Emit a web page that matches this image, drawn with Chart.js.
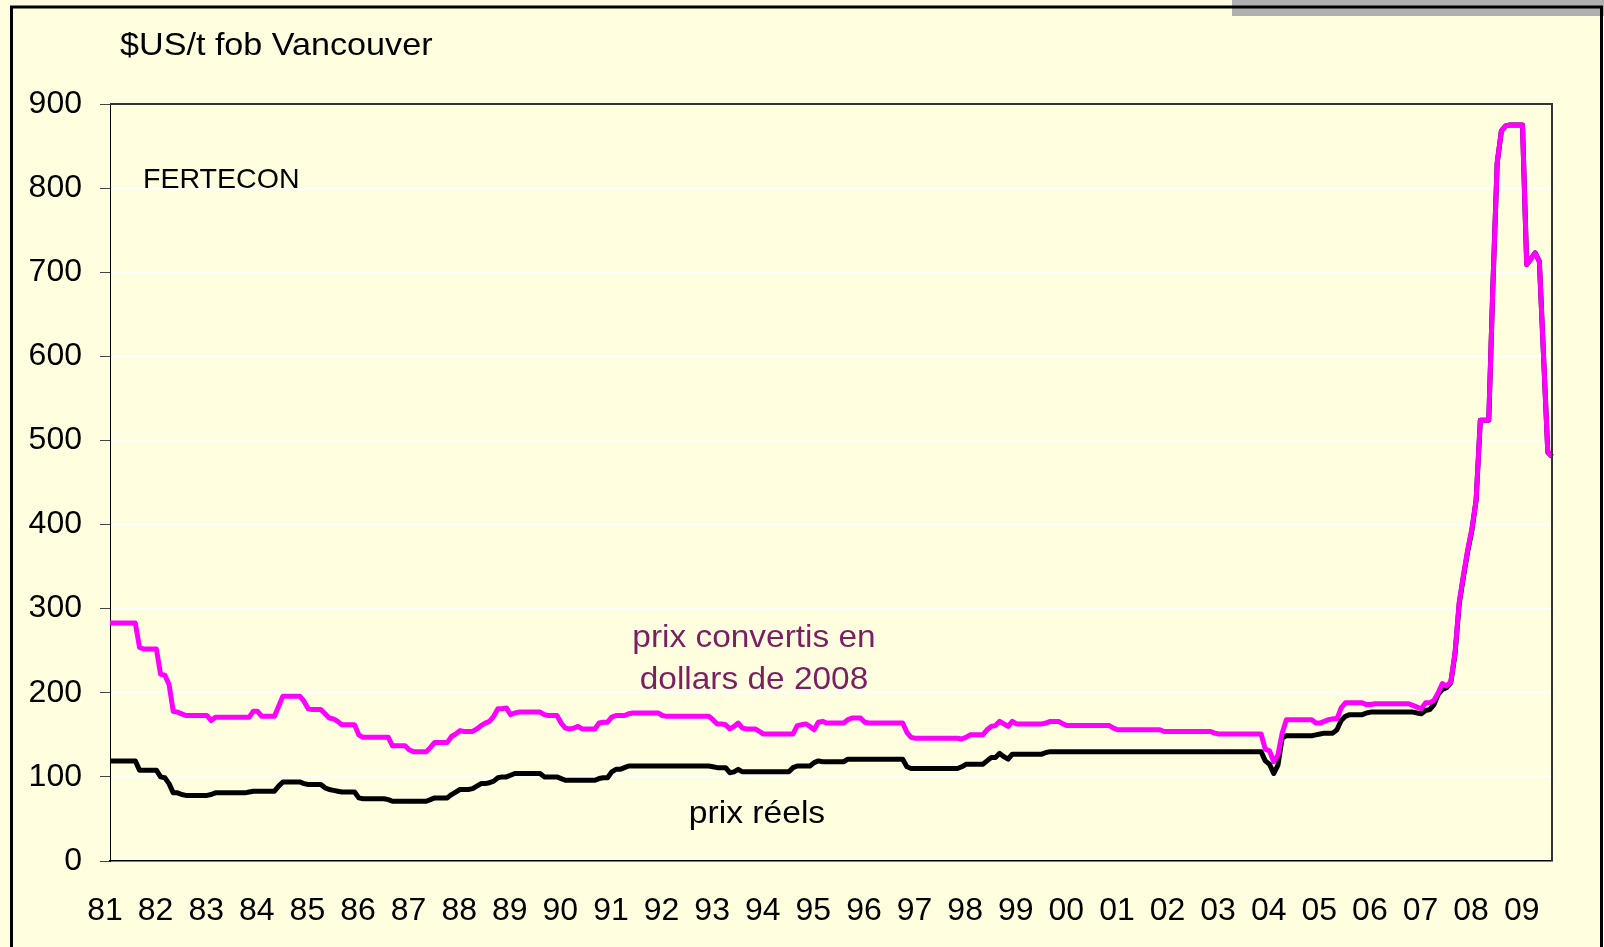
<!DOCTYPE html>
<html><head><meta charset="utf-8">
<script src="https://cdn.jsdelivr.net/npm/chart.js@4.4.1/dist/chart.umd.min.js"></script>
<style>
html,body{margin:0;padding:0;background:#ffffe0;}
#wrap{position:relative;width:1604px;height:947px;overflow:hidden;background:#ffffe0;}
canvas{position:absolute;left:0;top:0;}
.t{position:absolute;font-family:"Liberation Sans",Arial,sans-serif;white-space:nowrap;}
</style></head><body>
<div id="wrap">
<canvas id="c" width="1604" height="947"></canvas>
<div class="t" style="left:120px;top:28px;font-size:32px;line-height:32px;color:#000;transform:scaleX(1.067);transform-origin:0 0">$US/t fob Vancouver</div>
<div class="t" style="left:143px;top:165px;font-size:28px;line-height:28px;color:#000;transform:scaleX(1.02);transform-origin:0 0">FERTECON</div>
<div class="t" style="left:554px;top:615px;width:400px;text-align:center;font-size:32px;line-height:42px;color:#7b1f62;transform:scaleX(1.044);transform-origin:50% 0">prix convertis en<br>dollars de 2008</div>
<div class="t" style="left:557px;top:796px;width:400px;text-align:center;font-size:32px;line-height:32px;color:#000;transform:scaleX(1.05);transform-origin:50% 0">prix réels</div>
</div>
<script>
// Tick labels (one per January)
const yearLabels = ['81','82','83','84','85','86','87','88','89','90','91','92','93','94','95','96','97','98','99','00','01','02','03','04','05','06','07','08','09'];
const startYear = 1981;

// Monthly prices converted to 2008 dollars (Jan 1981 - Jul 2009)
const price2008 = [
 283,283,283,283,283,283,283,254,252,252,252,252,
 222,221,210,178,177,175,173,173,173,173,173,173,
 167,171,171,171,171,171,171,171,171,171,178,178,
 172,172,172,172,184,196,196,196,196,196,190,181,
 180,180,180,175,170,169,166,162,162,162,162,150,
 147,147,147,147,147,147,147,137,137,137,137,132,
 130,130,130,130,135,141,141,141,141,148,151,155,
 154,154,154,157,161,164,166,172,181,181,182,174,
 176,177,177,177,177,177,177,174,173,173,173,164,
 158,157,158,160,157,157,157,157,164,165,165,171,
 173,173,173,175,176,176,176,176,176,176,176,173,
 172,172,172,172,172,172,172,172,172,172,172,168,
 163,163,162,157,160,164,158,157,157,157,154,151,
 151,151,151,151,151,151,151,161,162,163,160,156,
 165,166,164,164,164,164,164,168,170,170,170,165,
 164,164,164,164,164,164,164,164,164,153,147,146,
 146,146,146,146,146,146,146,146,146,146,145,147,
 150,150,150,150,156,160,161,166,163,160,166,163,
 163,163,163,163,163,163,164,166,166,166,163,161,
 161,161,161,161,161,161,161,161,161,161,158,156,
 156,156,156,156,156,156,156,156,156,156,154,154,
 154,154,154,154,154,154,154,154,154,154,152,151,
 151,151,151,151,151,151,151,151,151,151,133,131,
 118,126,152,168,168,168,168,168,168,168,164,164,
 166,168,169,169,182,188,188,188,188,188,186,186,
 187,187,187,187,187,187,187,187,187,185,183,181,
 188,188,191,200,211,208,213,248,308,340,370,395,
 429,524,524,524,687,830,868,874,875,875,875,875,
 709,716,723,713,600,486,481
];

// Monthly nominal prices ("prix réels")
const priceReal = [
 119,119,119,119,119,119,119,108,108,108,108,108,
 100,99,92,81,81,79,78,78,78,78,78,78,
 79,81,81,81,81,81,81,81,81,82,83,83,
 83,83,83,83,89,94,94,94,94,94,92,91,
 91,91,91,87,85,84,83,82,82,82,82,75,
 74,74,74,74,74,74,73,71,71,71,71,71,
 71,71,71,71,73,75,75,75,75,79,82,85,
 85,85,86,89,92,92,93,95,99,100,100,102,
 104,104,104,104,104,104,104,100,100,100,100,98,
 96,96,96,96,96,96,96,96,98,99,99,106,
 109,109,111,113,113,113,113,113,113,113,113,113,
 113,113,113,113,113,113,113,113,113,113,113,112,
 111,111,111,105,106,109,106,106,106,106,106,106,
 106,106,106,106,106,106,111,113,113,113,113,117,
 119,118,118,118,118,118,118,121,121,121,121,121,
 121,121,121,121,121,121,121,121,121,112,110,110,
 110,110,110,110,110,110,110,110,110,110,112,115,
 115,115,115,115,119,123,123,128,124,121,127,127,
 127,127,127,127,127,127,129,130,130,130,130,130,
 130,130,130,130,130,130,130,130,130,130,130,130,
 130,130,130,130,130,130,130,130,130,130,130,130,
 130,130,130,130,130,130,130,130,130,130,130,130,
 130,130,130,130,130,130,130,130,130,130,119,115,
 104,114,146,149,149,149,149,149,149,149,150,151,
 152,152,152,156,167,172,174,174,174,174,176,177,
 177,177,177,177,177,177,177,177,177,177,176,175,
 179,180,186,198,204,206,212,246,306,338,368,393,
 429,524,524,524,687,830,868,874,875,875,875,875,
 709,716,723,713,600,486,481
];

// Month categories
const months = price2008.map((_, i) => (startYear + Math.floor(i / 12)) + '-' + String(i % 12 + 1).padStart(2, '0'));

const FONT = '"Liberation Sans", Arial, sans-serif';
Chart.defaults.font.family = FONT;
Chart.defaults.color = '#000';

const deco = {
  id: 'deco',
  beforeDraw(chart) {
    const ctx = chart.ctx;
    ctx.save();
    ctx.fillStyle = '#ffffe0';
    ctx.fillRect(0, 0, chart.width, chart.height);
    ctx.restore();
  },
  afterDraw(chart) {
    const ctx = chart.ctx;
    const a = chart.chartArea;
    ctx.save();
    ctx.strokeStyle = '#333';
    ctx.lineWidth = 2;
    ctx.beginPath();
    ctx.moveTo(a.left, a.top);
    ctx.lineTo(a.right, a.top);
    ctx.lineTo(a.right, a.bottom);
    ctx.stroke();
    ctx.fillStyle = '#b0b0b0';
    ctx.fillRect(1232, 0, 372, 16);
    ctx.strokeStyle = '#000';
    ctx.lineWidth = 3;
    ctx.beginPath();
    ctx.moveTo(11.5, 960);
    ctx.lineTo(11.5, 7);
    ctx.lineTo(1601.5, 7);
    ctx.lineTo(1601.5, 960);
    ctx.stroke();
    ctx.restore();
  }
};

new Chart(document.getElementById('c'), {
  type: 'line',
  data: {
    labels: months,
    datasets: [
      { label: 'prix convertis en dollars de 2008', data: price2008, borderColor: '#ff00ff', borderWidth: 5, pointRadius: 0, tension: 0, borderJoinStyle: 'round', fill: false },
      { label: 'prix réels', data: priceReal, borderColor: '#000000', borderWidth: 5, pointRadius: 0, tension: 0, borderJoinStyle: 'round', fill: false }
    ]
  },
  options: {
    responsive: false,
    animation: false,
    devicePixelRatio: 1,
    layout: { padding: { top: 104, right: 52, left: 0, bottom: 0 } },
    plugins: { legend: { display: false }, tooltip: { enabled: false } },
    scales: {
      x: {
        type: 'category',
        offset: false,
        grid: { display: false, drawTicks: false },
        border: { display: true, color: '#000', width: 1.5 },
        ticks: {
          autoSkip: false, maxRotation: 0, minRotation: 0, padding: 31, labelOffset: -5,
          font: { size: 32 }, color: '#000',
          callback: function (v, i) { return i % 12 === 0 ? yearLabels[i / 12] : ''; }
        },
        afterFit(s) { s.height = 86; s.paddingLeft = 0; s.paddingRight = 0; }
      },
      y: {
        min: 0, max: 900,
        grid: { color: '#ffffff', lineWidth: 1, tickLength: 10, tickColor: '#444', drawTicks: true },
        border: { display: true, color: '#000', width: 1 },
        ticks: { stepSize: 100, padding: 18, font: { size: 32 }, color: '#000' },
        afterFit(s) { s.width = 110; s.paddingTop = 0; s.paddingBottom = 0; }
      }
    }
  },
  plugins: [deco]
});
</script>
</body></html>
